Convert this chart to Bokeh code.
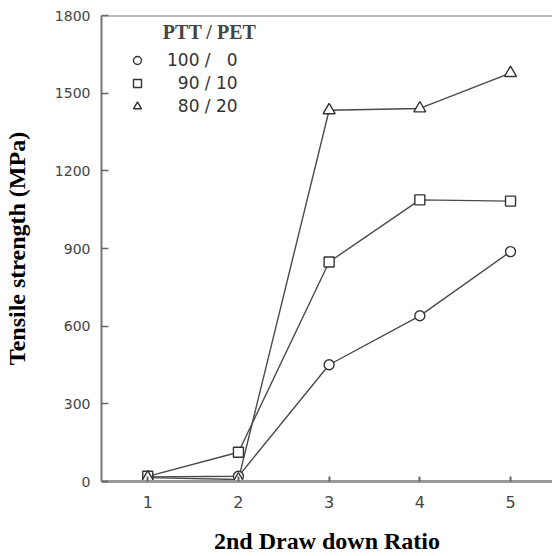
from bokeh.plotting import figure
from bokeh.models import Range1d, FixedTicker, Span, Legend, LegendItem, Label
from bokeh.embed import file_html
from bokeh.resources import INLINE

# ---- data ----
draw_ratio = [1, 2, 3, 4, 5]
ptt100 = [18, 20, 451, 640, 888]      # 100 / 0
ptt90 = [20, 113, 848, 1088, 1083]    # 90 / 10
ptt80 = [15, 8, 1434, 1441, 1578]     # 80 / 20
series_labels = ["100 / \u20070", "\u200790 / 10", "\u200780 / 20"]
legend_title = "PTT / PET"
y_ticks = [0, 300, 600, 900, 1200, 1500, 1800]
x_ticks = [1, 2, 3, 4, 5]

p = figure(width=552, height=556, output_backend="svg", toolbar_location=None,
           x_range=Range1d(0.49, 5.463), y_range=Range1d(0, 1800),
           min_border_left=101, min_border_right=0, min_border_top=15, min_border_bottom=74)
p.outline_line_color = None
p.xgrid.visible = False
p.ygrid.visible = False
p.background_fill_color = "white"
p.border_fill_color = "white"

line_color = "#4a4a4a"
mk_color = "#333333"
series = [(ptt100, "circle", 10), (ptt90, "square", 10), (ptt80, "triangle", 12)]
legend_items = []
for (vals, marker, size), lab in zip(series, series_labels):
    p.line(draw_ratio, vals, line_color=line_color, line_width=1.4)
for (vals, marker, size), lab in zip(series, series_labels):
    r = p.scatter(draw_ratio, vals, marker=marker, size=size, fill_color="white",
                  line_color=mk_color, line_width=1.4)
    legend_items.append(LegendItem(label=lab, renderers=[r]))

legend = Legend(items=legend_items, location=(26, 365), margin=0, padding=0,
                border_line_alpha=0, background_fill_alpha=0,
                glyph_width=20, glyph_height=20, label_height=20, spacing=3,
                label_standoff=20, label_text_font="DejaVu Sans",
                label_text_font_size="17px", label_text_color="#333333")
p.add_layout(legend, "center")

p.add_layout(Label(x=108, y=450, x_units="screen", y_units="screen", text=legend_title,
                   text_font="Liberation Serif", text_font_style="bold",
                   text_font_size="20px", text_align="center", text_baseline="middle"))

# top frame line
p.add_layout(Span(location=1800, dimension="width", line_color="#777777", line_width=2))

# x axis
xa = p.xaxis[0]
xa.ticker = FixedTicker(ticks=x_ticks)
xa.minor_tick_line_color = None
xa.major_tick_in = 5
xa.major_tick_out = 0
xa.major_tick_line_color = "#666666"
xa.major_tick_line_width = 2
xa.axis_line_color = "#999999"
xa.axis_line_width = 3
xa.major_label_text_font = "DejaVu Sans"
xa.major_label_text_font_size = "16px"
xa.major_label_text_color = "#444444"
xa.major_label_standoff = 14
xa.axis_label = "2nd Draw down Ratio"
xa.axis_label_text_font = "Liberation Serif"
xa.axis_label_text_font_style = "bold"
xa.axis_label_text_font_size = "24px"
xa.axis_label_text_color = "black"
xa.axis_label_standoff = 17

# y axis
ya = p.yaxis[0]
ya.ticker = FixedTicker(ticks=y_ticks)
ya.minor_tick_line_color = None
ya.major_tick_in = 7
ya.major_tick_out = 0
ya.major_tick_line_color = "#666666"
ya.major_tick_line_width = 1.5
ya.axis_line_color = "#777777"
ya.axis_line_width = 2
ya.major_label_text_font = "DejaVu Sans"
ya.major_label_text_font_size = "14px"
ya.major_label_text_color = "#444444"
ya.major_label_standoff = 11
ya.axis_label = "Tensile strength (MPa)"
ya.axis_label_text_font = "Liberation Serif"
ya.axis_label_text_font_style = "bold"
ya.axis_label_text_font_size = "24px"
ya.axis_label_text_color = "black"
ya.axis_label_standoff = 22

open("out.html", "w").write(file_html(p, INLINE))
